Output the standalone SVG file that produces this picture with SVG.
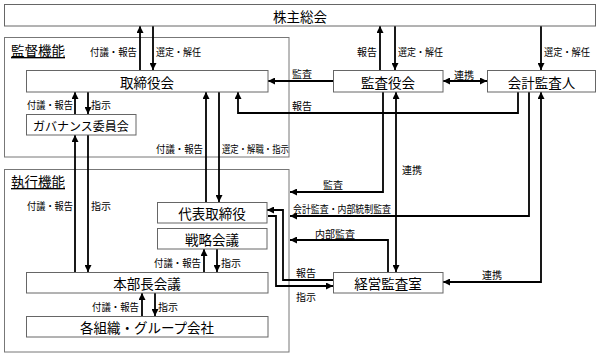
<svg xmlns="http://www.w3.org/2000/svg" width="600" height="355" viewBox="0 0 600 355">
<style>
.box{fill:#fff;stroke:#666;stroke-width:1}
.panel{fill:#fff;stroke:#777;stroke-width:1}
.bt{font-family:"Noto Sans CJK JP","Noto Sans",sans-serif;font-size:13.5px;fill:#000;text-anchor:middle;dominant-baseline:central}
.lb{font-family:"Noto Sans CJK JP","Noto Sans",sans-serif;font-size:10px;fill:#000}
.ttl{font-family:"Noto Sans CJK JP","Noto Sans",sans-serif;font-size:13.5px;fill:#000;text-decoration:underline}
.c{fill:none;stroke:#000;stroke-width:1.8}
.e{marker-end:url(#ah)}
.s{marker-start:url(#ah)}
.end{text-anchor:end}
.mid{text-anchor:middle}
</style>
<defs>
<marker id="ah" markerUnits="userSpaceOnUse" markerWidth="7" markerHeight="7" refX="7" refY="3.5" orient="auto-start-reverse">
<path d="M0,0 L7,3.5 L0,7 z" fill="#000"/>
</marker>
</defs>
<rect width="600" height="355" fill="#fff"/>
<g id="panel-kantoku">
<rect class="panel" x="4.5" y="37.5" width="284.5" height="119.5"/>
<text class="ttl" x="11" y="56">監督機能</text>
</g>
<g id="panel-shikko">
<rect class="panel" x="4.5" y="169.5" width="284.5" height="182.5"/>
<text class="ttl" x="11" y="187">執行機能</text>
</g>
<g id="connectors">
<path class="c e" d="M140,70 V26"/>
<path class="c e" d="M153,26 V70"/>
<path class="c e" d="M380,70 V26"/>
<path class="c e" d="M395,26 V70"/>
<path class="c e" d="M541,26 V70"/>
<path class="c e s" d="M443,81 H487"/>
<path class="c e" d="M333,81 H268"/>
<path class="c e" d="M518,92 V113 H238 V92"/>
<path class="c e" d="M75,114 V92"/>
<path class="c e" d="M88,92 V114"/>
<path class="c e" d="M75,272 V135"/>
<path class="c e" d="M88,135 V272"/>
<path class="c e" d="M206,202 V92"/>
<path class="c e" d="M219,92 V202"/>
<path class="c e" d="M204,272 V249"/>
<path class="c e" d="M217,249 V272"/>
<path class="c e" d="M142,316 V293"/>
<path class="c e" d="M155,293 V316"/>
<path class="c e" d="M383,92 V192 H290"/>
<path class="c e" d="M529,92 V216 H290"/>
<path class="c e" d="M388,272 V240 H290"/>
<path class="c e s" d="M396,92 V272"/>
<path class="c e s" d="M541,92 V282 H443"/>
<path class="c e" d="M333,280 H283 V210 H267"/>
<path class="c e" d="M268,216 H276 V286 H333"/>
<text class="lb end" x="137" y="55.5" textLength="47" lengthAdjust="spacingAndGlyphs">付議・報告</text>
<text class="lb" x="156" y="55.5" textLength="45" lengthAdjust="spacingAndGlyphs">選定・解任</text>
<text class="lb end" x="377" y="55.5">報告</text>
<text class="lb" x="398" y="55.5" textLength="45" lengthAdjust="spacingAndGlyphs">選定・解任</text>
<text class="lb" x="544" y="55.5" textLength="46" lengthAdjust="spacingAndGlyphs">選定・解任</text>
<text class="lb mid" x="464" y="79">連携</text>
<text class="lb" x="292" y="77.5">監査</text>
<text class="lb" x="292" y="110">報告</text>
<text class="lb end" x="73" y="108.5" textLength="46" lengthAdjust="spacingAndGlyphs">付議・報告</text>
<text class="lb" x="91" y="108.5">指示</text>
<text class="lb end" x="203" y="152.5" textLength="47" lengthAdjust="spacingAndGlyphs">付議・報告</text>
<text class="lb" x="222" y="152.5" textLength="67" lengthAdjust="spacingAndGlyphs">選定・解職・指示</text>
<text class="lb end" x="73" y="209.5" textLength="46" lengthAdjust="spacingAndGlyphs">付議・報告</text>
<text class="lb" x="91" y="209.5">指示</text>
<text class="lb" x="323" y="188.5">監査</text>
<text class="lb" x="293" y="212.5" textLength="98" lengthAdjust="spacingAndGlyphs">会計監査・内部統制監査</text>
<text class="lb" x="315" y="237.5">内部監査</text>
<text class="lb" x="402" y="173.5">連携</text>
<text class="lb" x="296" y="276.5">報告</text>
<text class="lb" x="296" y="300.5">指示</text>
<text class="lb" x="482" y="278.5">連携</text>
<text class="lb end" x="201" y="266.5" textLength="47" lengthAdjust="spacingAndGlyphs">付議・報告</text>
<text class="lb" x="221" y="266.5">指示</text>
<text class="lb end" x="139" y="310.5" textLength="47" lengthAdjust="spacingAndGlyphs">付議・報告</text>
<text class="lb" x="158" y="310.5">指示</text>
</g>
<g id="kabunushi"><rect class="box" x="4.5" y="4.5" width="591" height="21.5"/><text class="bt" x="300" y="15.5">株主総会</text></g>
<g id="torishimariyakukai"><rect class="box" x="26.5" y="70.5" width="241.5" height="21.5"/><text class="bt" x="147" y="81.5">取締役会</text></g>
<g id="governance"><rect class="box" x="26.5" y="114.5" width="109.5" height="20.5"/><text class="bt" x="81" y="125" style="font-size:12px">ガバナンス委員会</text></g>
<g id="kansayakukai"><rect class="box" x="333.5" y="70.5" width="109.5" height="21.5"/><text class="bt" x="388" y="81.5">監査役会</text></g>
<g id="kaikeikansanin"><rect class="box" x="487.5" y="70.5" width="108" height="21.5"/><text class="bt" x="541.5" y="81.5">会計監査人</text></g>
<g id="daihyo"><rect class="box" x="157.5" y="202.5" width="109.5" height="20.5"/><text class="bt" x="212" y="213">代表取締役</text></g>
<g id="senryaku"><rect class="box" x="157.5" y="228.5" width="109.5" height="20.5"/><text class="bt" x="212" y="239">戦略会議</text></g>
<g id="honbucho"><rect class="box" x="26.5" y="272.5" width="241.5" height="20.5"/><text class="bt" x="147" y="283">本部長会議</text></g>
<g id="kakusoshiki"><rect class="box" x="26.5" y="316.5" width="241.5" height="20.5"/><text class="bt" x="147" y="327">各組織・グループ会社</text></g>
<g id="keiei-kansa"><rect class="box" x="333.5" y="272.5" width="109.5" height="20.5"/><text class="bt" x="388" y="283">経営監査室</text></g>
</svg>
